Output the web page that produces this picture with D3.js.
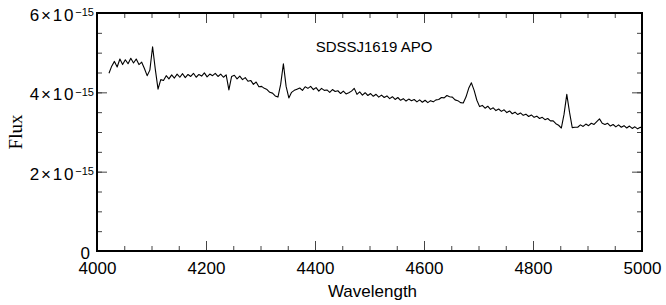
<!DOCTYPE html>
<html>
<head>
<meta charset="utf-8">
<script src="https://cdn.jsdelivr.net/npm/d3@7"></script>
<style>
  body { margin: 0; background: #fff; }
  svg { display: block; }
  .tick text { font-family: "Liberation Sans", Arial, sans-serif; fill: #000; }
</style>
</head>
<body>
<script>
// spectrum sampled on a regular grid (Angstrom), flux in units of 1e-15
var waveStart = 4022,
    waveStep = 5;

var flux = [
  4.48,4.66,4.78,4.64,4.84,4.70,4.82,4.72,4.86,4.74,   // 4022
  4.84,4.70,4.76,4.60,4.42,4.56,5.15,4.58,4.08,4.32,   // 4072
  4.30,4.42,4.34,4.44,4.36,4.46,4.38,4.47,4.37,4.45,   // 4122
  4.40,4.48,4.38,4.45,4.41,4.49,4.39,4.46,4.42,4.48,   // 4172
  4.40,4.46,4.38,4.44,4.06,4.40,4.43,4.34,4.41,4.32,   // 4222
  4.37,4.28,4.30,4.20,4.26,4.14,4.15,4.10,4.07,4.00,   // 4272
  3.98,3.91,3.88,4.20,4.72,4.15,3.86,4.00,4.05,4.08,   // 4322
  4.11,4.05,4.14,4.10,4.15,4.07,4.12,4.03,4.10,4.05,   // 4372
  4.06,4.00,4.07,4.02,4.04,3.97,4.03,3.96,3.99,4.03,   // 4422
  4.10,3.95,4.01,3.93,3.99,3.92,3.97,3.90,3.95,3.88,   // 4472
  3.93,3.87,3.91,3.84,3.89,3.82,3.87,3.80,3.84,3.78,   // 4522
  3.83,3.79,3.82,3.76,3.81,3.75,3.80,3.74,3.79,3.76,   // 4572
  3.81,3.82,3.87,3.86,3.92,3.89,3.88,3.81,3.79,3.74,   // 4622
  3.73,3.88,4.10,4.24,4.05,3.80,3.64,3.67,3.60,3.65,   // 4672
  3.57,3.61,3.54,3.58,3.52,3.56,3.49,3.53,3.46,3.50,   // 4722
  3.44,3.48,3.42,3.45,3.39,3.43,3.37,3.40,3.34,3.37,   // 4772
  3.31,3.34,3.28,3.28,3.21,3.17,3.10,3.45,3.95,3.50,   // 4822
  3.11,3.12,3.12,3.18,3.14,3.20,3.16,3.22,3.19,3.26,   // 4872
  3.33,3.22,3.19,3.22,3.15,3.19,3.13,3.18,3.12,3.16,   // 4922
  3.10,3.15,3.09,3.13,3.08,3.12,3.08                   // 4972
];

var xMajor = [4000, 4200, 4400, 4600, 4800, 5000],
    yMajor = [0, 2, 4, 6];

var title = "SDSSJ1619 APO";

var W = 666, H = 305,
    margin = {top: 13, right: 24, bottom: 54, left: 97},
    width = W - margin.left - margin.right,
    height = H - margin.top - margin.bottom;

var x = d3.scaleLinear().domain([4000, 5000]).range([0, width]);
var y = d3.scaleLinear().domain([0, 6]).range([height, 0]);

var spec = flux.map(function(f, i) { return {w: waveStart + i * waveStep, f: f}; });

var svg = d3.select("body").append("svg")
    .attr("width", W)
    .attr("height", H);

svg.append("defs").append("clipPath").attr("id", "clip")
  .append("rect").attr("width", width).attr("height", height);

var g = svg.append("g")
    .attr("transform", "translate(" + margin.left + "," + margin.top + ")");

// minor ticks, all four sides, pointing in
var xMinor = d3.range(4000, 5001, 50),
    yMinor = d3.range(0, 6.01, 0.5);

function tickAxis(axis, vals, size, tx) {
  var a = g.append("g")
      .attr("transform", tx)
      .call(axis.tickValues(vals).tickSize(size).tickFormat(""));
  a.select(".domain").remove();
  a.selectAll("line").attr("stroke", "#444").attr("stroke-width", 1);
  return a;
}
tickAxis(d3.axisBottom(x), xMinor, -5, "translate(0," + height + ")");
tickAxis(d3.axisTop(x), xMinor, -5, "translate(0,0)");
tickAxis(d3.axisLeft(y), yMinor, -5, "translate(0,0)");
tickAxis(d3.axisRight(y), yMinor, -5, "translate(" + width + ",0)");
tickAxis(d3.axisBottom(x), xMajor, -10, "translate(0," + height + ")");
tickAxis(d3.axisTop(x), xMajor, -10, "translate(0,0)");
tickAxis(d3.axisLeft(y), yMajor, -10, "translate(0,0)");
tickAxis(d3.axisRight(y), yMajor, -10, "translate(" + width + ",0)");

// x labels
var xl = g.append("g")
    .attr("transform", "translate(0," + height + ")")
    .call(d3.axisBottom(x).tickValues(xMajor).tickSize(0).tickPadding(11).tickFormat(d3.format("d")));
xl.select(".domain").remove();
xl.selectAll("text").style("font-size", "17px");

// y labels with 10^-15
var yl = g.append("g")
    .call(d3.axisLeft(y).tickValues(yMajor).tickSize(0).tickPadding(3).tickFormat(""));
yl.select(".domain").remove();
yl.selectAll("text")
    .attr("dy", "0.44em")
    .style("font-size", "17px")
    .each(function(d) {
      var t = d3.select(this);
      if (d === 0) { t.attr("x", -7).text("0"); return; }
      t.append("tspan").style("letter-spacing", "1.8px").text(d + "\u00d710");
      t.append("tspan").attr("dy", "-0.42em").style("font-size", "11px").text("\u221215");
    });

// spectrum
var line = d3.line()
    .x(function(d) { return x(d.w); })
    .y(function(d) { return y(d.f); });

g.append("path")
    .datum(spec)
    .attr("clip-path", "url(#clip)")
    .attr("fill", "none")
    .attr("stroke", "#000")
    .attr("stroke-width", 1.1)
    .attr("stroke-linejoin", "round")
    .attr("d", line);

// frame
g.append("rect")
    .attr("width", width)
    .attr("height", height)
    .attr("fill", "none")
    .attr("stroke", "#000")
    .attr("stroke-width", 2);

g.append("text")
    .attr("x", x(4400) + 59)
    .attr("y", 39)
    .attr("text-anchor", "middle")
    .style("font-family", "Liberation Sans, Arial, sans-serif")
    .style("font-size", "15px")
    .text(title);

svg.append("text")
    .attr("x", margin.left + width / 2 + 3)
    .attr("y", 297)
    .attr("text-anchor", "middle")
    .style("font-family", "Liberation Sans, Arial, sans-serif")
    .style("font-size", "17px")
    .text("Wavelength");

svg.append("text")
    .attr("transform", "translate(22," + (margin.top + height / 2) + ")rotate(-90)")
    .attr("text-anchor", "middle")
    .style("font-family", "Liberation Serif, Times New Roman, serif")
    .style("font-size", "19px")
    .text("Flux");
</script>
</body>
</html>
